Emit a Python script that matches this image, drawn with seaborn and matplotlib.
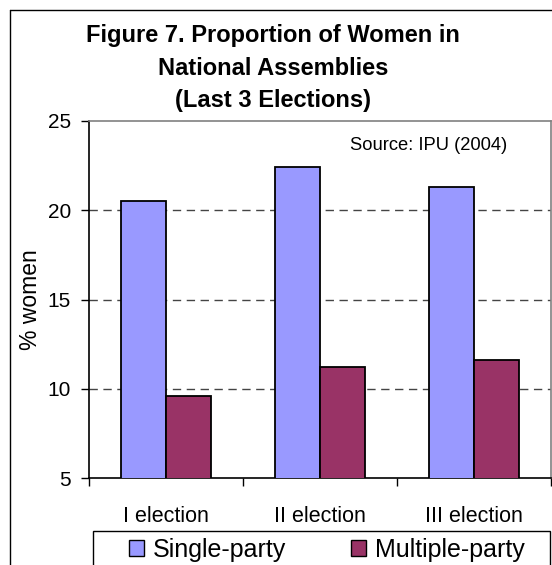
import matplotlib
matplotlib.use("Agg")
import matplotlib.pyplot as plt
from matplotlib.lines import Line2D
from matplotlib.patches import Rectangle
import seaborn as sns
import pandas as pd

# Data
elections = ["I election", "II election", "III election"]
single_party = [20.5, 22.4, 21.3]
multiple_party = [9.6, 11.2, 11.6]
series_names = ["Single-party", "Multiple-party"]
colors = ["#9999FF", "#993366"]

df = pd.DataFrame({
    "election": elections * 2,
    "value": single_party + multiple_party,
    "system": [series_names[0]] * 3 + [series_names[1]] * 3,
})

sns.set_theme(style="white")
plt.rcParams["font.family"] = ["Liberation Sans", "DejaVu Sans"]
plt.rcParams.update({
    "text.color": "black",
    "axes.labelcolor": "black",
    "xtick.color": "black",
    "ytick.color": "black",
})

W, H = 552, 565
fig = plt.figure(figsize=(W / 100, H / 100), dpi=100)
ax = fig.add_axes([89 / W, 1 - 478 / H, 462 / W, 357 / H])

sns.barplot(data=df, x="election", y="value", hue="system",
            palette=colors, width=0.58, edgecolor="black", linewidth=1.3,
            saturation=1, ax=ax, legend=True, zorder=3)

ax.set_ylim(5, 25)
ax.set_xlim(-0.5, 2.5)
ax.set_yticks([5, 10, 15, 20, 25])
ax.tick_params(axis="y", labelsize=15, length=6, width=1, color="black",
               direction="out", pad=7, left=True)
ax.tick_params(axis="x", which="major", labelsize=15.5, length=0, pad=20)
ax.set_xticks([-0.5, 0.5, 1.5, 2.5], minor=True)
ax.tick_params(axis="x", which="minor", length=6, width=1, color="black",
               direction="out", bottom=True)

for yv in [10, 15, 20]:
    ax.axhline(yv, color="#444444", lw=1.0, ls=(0, (6, 4)), zorder=1)

ax.set_xlabel("")
ax.set_ylabel("% women", fontsize=16.5)
ax.yaxis.set_label_coords(-0.102, 0.5)

for side in ["left", "bottom"]:
    ax.spines[side].set_color("black")
    ax.spines[side].set_linewidth(1.2)
for side in ["top", "right"]:
    ax.spines[side].set_color("#808080")
    ax.spines[side].set_linewidth(1.2)
    ax.spines[side].set_visible(True)

ax.text(0.566, 0.931, "Source: IPU (2004)", transform=ax.transAxes,
        ha="left", va="center", fontsize=13.2)

fig.text(273 / W, 1 - 68 / H,
         "Figure 7. Proportion of Women in\nNational Assemblies\n(Last 3 Elections)",
         ha="center", va="center", fontsize=17, fontweight="bold",
         linespacing=1.55)

# Legend along the bottom edge, with its own box
handles, labels = ax.get_legend_handles_labels()
ax.get_legend().remove()
leg = fig.legend(handles, labels, loc="center left",
                 bbox_to_anchor=(129 / W, 1 - 550 / H),
                 ncol=2, fontsize=18, frameon=False,
                 handlelength=0.6, handleheight=0.6, handletextpad=0.36,
                 columnspacing=2.6, borderpad=0, borderaxespad=0)
for h in leg.legend_handles:
    h.set_edgecolor("black")
    h.set_linewidth(1.0)
fig.add_artist(Rectangle((93 / W, -0.05), (550 - 93) / W, 0.05 + 1 - 531 / H,
                         transform=fig.transFigure, fill=False,
                         edgecolor="black", lw=1.0))

# Outer frame around the chart
fig.add_artist(Line2D([10 / W, 10 / W], [0, 1 - 10 / H], color="black",
                      lw=1.0, transform=fig.transFigure))
fig.add_artist(Line2D([10 / W, 1], [1 - 10 / H, 1 - 10 / H], color="black",
                      lw=1.0, transform=fig.transFigure))

fig.savefig("out.png", dpi=100)
